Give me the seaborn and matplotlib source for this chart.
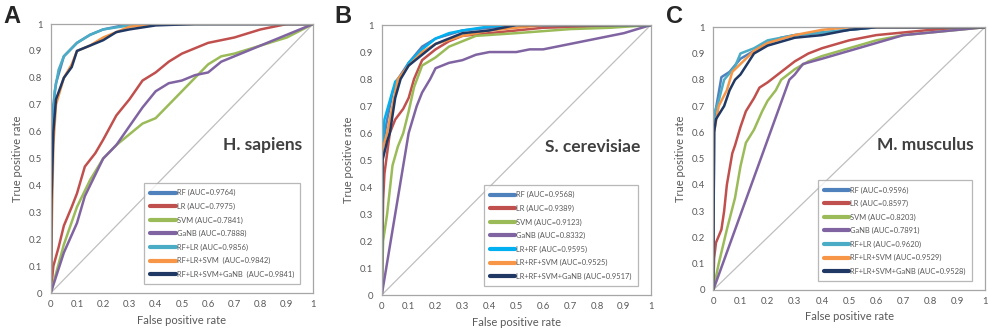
import seaborn as sns
import matplotlib.pyplot as plt
import pandas as pd
from matplotlib.lines import Line2D

# ---- data (fpr, tpr points per model) ----
models = ["RF", "LR", "SVM", "GaNB", "RF+LR", "RF+LR+SVM", "RF+LR+SVM+GaNB"]
models_b = ["RF", "LR", "SVM", "GaNB", "LR+RF", "LR+RF+SVM", "LR+RF+SVM+GaNB"]

auc_a = ["0.9764", "0.7975", "0.7841", "0.7888", "0.9856", "0.9842", "0.9841"]
auc_b = ["0.9568", "0.9389", "0.9123", "0.8332", "0.9595", "0.9525", "0.9517"]
auc_c = ["0.9596", "0.8597", "0.8203", "0.7891", "0.9620", "0.9529", "0.9528"]

# Panel A - H. sapiens
a_rf_x = [0, 0.005, 0.01, 0.02, 0.05, 0.1, 0.15, 0.2, 0.3, 1.0]
a_rf_y = [0, 0.45, 0.70, 0.78, 0.88, 0.93, 0.96, 0.98, 1.0, 1.0]
a_lr_x = [0, 0.01, 0.03, 0.05, 0.08, 0.1, 0.13, 0.17, 0.2, 0.25, 0.3, 0.35, 0.4, 0.45, 0.5, 0.6, 0.7, 0.8, 0.9, 1.0]
a_lr_y = [0, 0.10, 0.17, 0.25, 0.32, 0.37, 0.47, 0.52, 0.57, 0.66, 0.72, 0.79, 0.82, 0.86, 0.89, 0.93, 0.95, 0.98, 1.0, 1.0]
a_svm_x = [0, 0.05, 0.1, 0.15, 0.2, 0.25, 0.3, 0.35, 0.4, 0.45, 0.5, 0.55, 0.6, 0.65, 0.7, 0.8, 0.9, 1.0]
a_svm_y = [0, 0.18, 0.32, 0.42, 0.50, 0.55, 0.59, 0.63, 0.65, 0.70, 0.75, 0.80, 0.85, 0.88, 0.89, 0.92, 0.95, 1.0]
a_nb_x = [0, 0.05, 0.1, 0.13, 0.2, 0.25, 0.3, 0.35, 0.4, 0.45, 0.5, 0.55, 0.6, 0.65, 0.7, 0.75, 0.8, 0.9, 1.0]
a_nb_y = [0, 0.15, 0.26, 0.36, 0.50, 0.55, 0.62, 0.69, 0.75, 0.78, 0.79, 0.81, 0.82, 0.86, 0.88, 0.90, 0.92, 0.96, 1.0]
a_rflr_x = [0, 0.005, 0.015, 0.03, 0.05, 0.1, 0.15, 0.2, 0.3, 0.35, 1.0]
a_rflr_y = [0, 0.50, 0.75, 0.83, 0.88, 0.93, 0.96, 0.98, 0.995, 1.0, 1.0]
a_rls_x = [0, 0.005, 0.01, 0.02, 0.05, 0.08, 0.1, 0.15, 0.2, 0.25, 0.3, 0.4, 1.0]
a_rls_y = [0, 0.30, 0.55, 0.70, 0.80, 0.85, 0.90, 0.92, 0.95, 0.97, 0.99, 1.0, 1.0]
a_all_x = [0, 0.003, 0.01, 0.02, 0.05, 0.08, 0.1, 0.15, 0.2, 0.25, 0.3, 0.4, 0.55, 1.0]
a_all_y = [0, 0.35, 0.60, 0.72, 0.80, 0.84, 0.90, 0.92, 0.94, 0.97, 0.98, 0.995, 1.0, 1.0]

# Panel B - S. cerevisiae
b_rf_x = [0, 0.003, 0.02, 0.04, 0.06, 0.1, 0.15, 0.2, 0.3, 0.4, 0.5, 1.0]
b_rf_y = [0, 0.55, 0.65, 0.75, 0.80, 0.86, 0.92, 0.95, 0.98, 0.99, 1.0, 1.0]
b_lr_x = [0, 0.005, 0.01, 0.03, 0.05, 0.08, 0.1, 0.12, 0.15, 0.2, 0.25, 0.3, 0.4, 0.5, 0.6, 1.0]
b_lr_y = [0, 0.35, 0.45, 0.60, 0.65, 0.69, 0.73, 0.80, 0.87, 0.91, 0.94, 0.96, 0.97, 0.98, 0.99, 1.0]
b_svm_x = [0, 0.005, 0.02, 0.04, 0.06, 0.08, 0.1, 0.12, 0.15, 0.2, 0.25, 0.3, 0.35, 0.5, 0.7, 0.85, 1.0]
b_svm_y = [0, 0.20, 0.30, 0.48, 0.55, 0.60, 0.68, 0.77, 0.85, 0.88, 0.92, 0.94, 0.96, 0.97, 0.985, 0.99, 1.0]
b_nb_x = [0, 0.1, 0.13, 0.15, 0.18, 0.2, 0.25, 0.3, 0.35, 0.4, 0.5, 0.55, 0.6, 0.7, 0.8, 0.9, 1.0]
b_nb_y = [0, 0.60, 0.70, 0.75, 0.80, 0.84, 0.86, 0.87, 0.89, 0.90, 0.90, 0.91, 0.91, 0.93, 0.95, 0.97, 1.0]
b_lrrf_x = [0, 0.003, 0.01, 0.03, 0.05, 0.08, 0.1, 0.15, 0.2, 0.25, 0.3, 0.4, 0.5, 1.0]
b_lrrf_y = [0, 0.55, 0.65, 0.72, 0.79, 0.82, 0.86, 0.91, 0.95, 0.97, 0.98, 0.995, 1.0, 1.0]
b_lrs_x = [0, 0.003, 0.02, 0.04, 0.06, 0.1, 0.15, 0.2, 0.3, 0.4, 0.5, 0.6, 1.0]
b_lrs_y = [0, 0.54, 0.60, 0.70, 0.80, 0.85, 0.90, 0.93, 0.96, 0.98, 0.99, 1.0, 1.0]
b_all_x = [0, 0.003, 0.02, 0.03, 0.05, 0.07, 0.1, 0.15, 0.2, 0.3, 0.4, 0.5, 1.0]
b_all_y = [0, 0.50, 0.57, 0.60, 0.73, 0.80, 0.85, 0.89, 0.93, 0.97, 0.98, 1.0, 1.0]

# Panel C - M. musculus
c_rf_x = [0, 0.003, 0.02, 0.03, 0.06, 0.1, 0.15, 0.2, 0.25, 0.3, 0.4, 0.5, 0.6, 1.0]
c_rf_y = [0, 0.65, 0.75, 0.81, 0.83, 0.88, 0.91, 0.94, 0.96, 0.97, 0.98, 0.99, 1.0, 1.0]
c_lr_x = [0, 0.003, 0.01, 0.03, 0.04, 0.05, 0.06, 0.07, 0.08, 0.1, 0.12, 0.15, 0.17, 0.2, 0.25, 0.3, 0.35, 0.4, 0.5, 0.6, 0.7, 0.8, 1.0]
c_lr_y = [0, 0.12, 0.18, 0.23, 0.30, 0.40, 0.46, 0.52, 0.55, 0.62, 0.68, 0.73, 0.77, 0.79, 0.83, 0.87, 0.90, 0.92, 0.95, 0.97, 0.98, 0.99, 1.0]
c_svm_x = [0, 0.02, 0.05, 0.08, 0.1, 0.12, 0.15, 0.18, 0.2, 0.23, 0.25, 0.3, 0.35, 0.4, 0.5, 0.6, 0.7, 0.8, 1.0]
c_svm_y = [0, 0.10, 0.23, 0.35, 0.47, 0.56, 0.61, 0.68, 0.72, 0.76, 0.80, 0.84, 0.87, 0.89, 0.92, 0.95, 0.97, 0.98, 1.0]
c_nb_x = [0, 0.28, 0.3, 0.33, 0.4, 0.5, 0.6, 0.7, 0.8, 0.9, 1.0]
c_nb_y = [0, 0.80, 0.82, 0.86, 0.88, 0.91, 0.94, 0.97, 0.98, 0.99, 1.0]
c_rflr_x = [0, 0.003, 0.02, 0.04, 0.08, 0.1, 0.15, 0.2, 0.3, 0.4, 0.5, 0.6, 1.0]
c_rflr_y = [0, 0.67, 0.72, 0.80, 0.85, 0.90, 0.92, 0.95, 0.97, 0.98, 0.99, 1.0, 1.0]
c_rls_x = [0, 0.003, 0.02, 0.05, 0.07, 0.1, 0.15, 0.2, 0.3, 0.4, 0.5, 1.0]
c_rls_y = [0, 0.60, 0.70, 0.76, 0.83, 0.86, 0.91, 0.94, 0.97, 0.99, 1.0, 1.0]
c_all_x = [0, 0.003, 0.01, 0.04, 0.06, 0.08, 0.1, 0.15, 0.2, 0.3, 0.4, 0.5, 0.6, 1.0]
c_all_y = [0, 0.60, 0.65, 0.70, 0.76, 0.80, 0.82, 0.90, 0.93, 0.96, 0.97, 0.99, 1.0, 1.0]

colors = ["#4F81BD", "#C0504D", "#9BBB59", "#8064A2", "#4BACC6", "#F79646", "#1F3864"]
colors_b = ["#4F81BD", "#C0504D", "#9BBB59", "#8064A2", "#00B0F0", "#F79646", "#1F3864"]

panels = [
    ("A", "H. sapiens", models, auc_a, colors,
     [(a_rf_x, a_rf_y), (a_lr_x, a_lr_y), (a_svm_x, a_svm_y), (a_nb_x, a_nb_y),
      (a_rflr_x, a_rflr_y), (a_rls_x, a_rls_y), (a_all_x, a_all_y)],
     [0.0513, 0.1067, 0.2652, 0.820]),
    ("B", "S. cerevisiae", models_b, auc_b, colors_b,
     [(b_rf_x, b_rf_y), (b_lr_x, b_lr_y), (b_svm_x, b_svm_y), (b_nb_x, b_nb_y),
      (b_lrrf_x, b_lrrf_y), (b_lrs_x, b_lrs_y), (b_all_x, b_all_y)],
     [0.386, 0.1006, 0.272, 0.823]),
    ("C", "M. musculus", models, auc_c, colors,
     [(c_rf_x, c_rf_y), (c_lr_x, c_lr_y), (c_svm_x, c_svm_y), (c_nb_x, c_nb_y),
      (c_rflr_x, c_rflr_y), (c_rls_x, c_rls_y), (c_all_x, c_all_y)],
     [0.7212, 0.116, 0.2747, 0.801]),
]

sns.set_style("white")
plt.rcParams["font.family"] = ["Lato", "DejaVu Sans"]

fig = plt.figure(figsize=(9.89, 3.28), dpi=100)
grey = "#A6A6A6"
txt = "#595959"
ticks = [i / 10 for i in range(11)]
tick_lbl = ["0"] + [f"{t:.1f}" for t in ticks[1:-1]] + ["1"]

for letter, species, names, aucs, cols, curves, rect in panels:
    ax = fig.add_axes(rect)
    rows = []
    for name, (xs, ys) in zip(names, curves):
        for x, y in zip(xs, ys):
            rows.append({"fpr": x, "tpr": y, "model": name})
    df = pd.DataFrame(rows)

    ax.plot([0, 1], [0, 1], color="#BFBFBF", lw=0.9, zorder=1)
    sns.lineplot(data=df, x="fpr", y="tpr", hue="model", hue_order=names,
                 palette=dict(zip(names, cols)), sort=False, estimator=None,
                 linewidth=1.8, legend=False, ax=ax)

    ax.set_xlim(0, 1)
    ax.set_ylim(0, 1)
    ax.set_xticks(ticks)
    ax.set_yticks(ticks)
    ax.set_xticklabels(tick_lbl)
    ax.set_yticklabels(tick_lbl)
    ax.tick_params(axis="both", labelsize=6.8, colors=txt, length=3,
                   width=0.8, direction="out", pad=2)
    ax.tick_params(axis="both", color=grey)
    ax.tick_params(axis="y", length=0, pad=6)
    for sp in ax.spines.values():
        sp.set_color(grey)
        sp.set_linewidth(0.9)
    ax.set_xlabel("False positive rate", fontsize=8, color=txt, labelpad=4)
    ax.set_ylabel("True positive rate", fontsize=8, color=txt, labelpad=4)

    ax.text(0.96, 0.55, species, transform=ax.transAxes, ha="right",
            va="center", fontsize=12.5, fontweight="bold", color="#404040")

    handles = [Line2D([0], [0], color=c, lw=3) for c in cols]
    labels = [f"{n} (AUC={a})" for n, a in zip(names, aucs)]
    if letter == "A":
        labels = [l.replace("SVM (AUC", "SVM  (AUC") if "+SVM" in l else l for l in labels]
        labels = [l.replace("GaNB (AUC", "GaNB  (AUC") if "+GaNB" in l else l for l in labels]
    leg = ax.legend(handles, labels, loc="lower right",
                    bbox_to_anchor=(0.965, 0.02), fontsize=5.4,
                    handlelength=3.4, handletextpad=0.1, labelspacing=0.85,
                    borderpad=0.8, frameon=True, fancybox=False)
    leg.get_frame().set_edgecolor(grey)
    leg.get_frame().set_linewidth(0.9)
    for t in leg.get_texts():
        t.set_color(txt)

    fig.text(rect[0] - 0.048, 0.985, letter, fontsize=17, fontweight="bold",
             family="Liberation Sans", va="top", ha="left")

fig.savefig("out.png", dpi=100)
